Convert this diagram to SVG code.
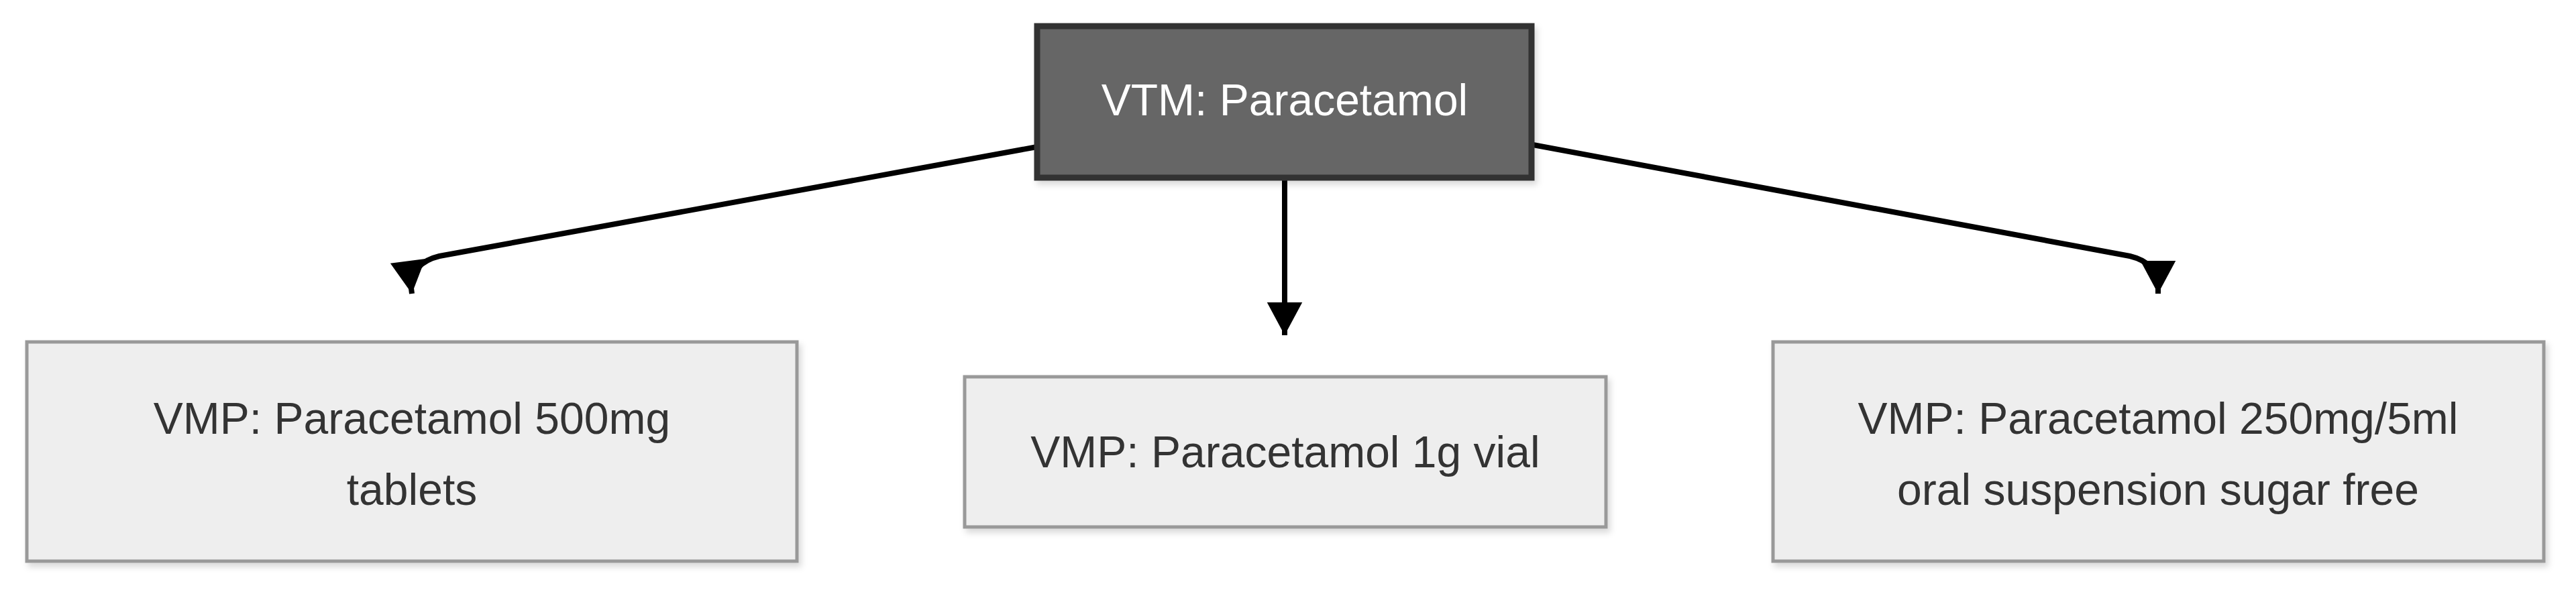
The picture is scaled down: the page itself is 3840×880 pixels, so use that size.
<svg xmlns="http://www.w3.org/2000/svg" width="3840" height="880" viewBox="0 0 3840 880">
<style>
.vmp{fill:#eeeeee;stroke:#999999;stroke-width:5}
.vtm{fill:#666666;stroke:#333333;stroke-width:9}
.t{font-family:"Liberation Sans",Arial,sans-serif;font-size:66px;text-anchor:middle;fill:#333333}
.tw{fill:#ffffff}
.e{fill:none;stroke:#000;stroke-width:8}
</style>
<defs>
<filter id="sh" x="-5%" y="-5%" width="115%" height="120%"><feDropShadow dx="4" dy="6" stdDeviation="5" flood-color="#000" flood-opacity="0.15"/></filter>
<marker id="ar" markerUnits="userSpaceOnUse" markerWidth="64" markerHeight="56" refX="32" refY="56" orient="auto-start-reverse" viewBox="0 0 64 56">
<path d="M2,0 L62,0 L32,56 Z" fill="#000" transform="rotate(0)"/>
</marker>
<marker id="ad" markerUnits="userSpaceOnUse" markerWidth="64" markerHeight="56" refX="56" refY="32" orient="auto" viewBox="0 0 56 64">
<path d="M0,2 L56,32 L0,62 Z" fill="#000"/>
</marker>
</defs>
<g id="connectors">
<path class="e" d="M1546,219 L655,382 Q613,392 613,430 L614,438" marker-end="url(#ad)"/>
<path class="e" d="M1915,267 L1915,500" marker-end="url(#ad)"/>
<path class="e" d="M2285,216 L3175,382 Q3217,392 3217,430 L3217,438" marker-end="url(#ad)"/>
</g>
<g id="vtm">
<rect class="vtm" x="1546" y="39" width="737" height="226" filter="url(#sh)"/>
<text class="t tw" x="1915" y="172">VTM: Paracetamol</text>
</g>
<g id="vmp1">
<rect class="vmp" x="40" y="510" width="1148" height="327" filter="url(#sh)"/>
<text class="t" x="614" y="647">VMP: Paracetamol 500mg</text>
<text class="t" x="614" y="753">tablets</text>
</g>
<g id="vmp2">
<rect class="vmp" x="1438" y="562" width="956" height="224" filter="url(#sh)"/>
<text class="t" x="1916" y="697">VMP: Paracetamol 1g vial</text>
</g>
<g id="vmp3">
<rect class="vmp" x="2643" y="510" width="1149" height="327" filter="url(#sh)"/>
<text class="t" x="3217" y="647">VMP: Paracetamol 250mg/5ml</text>
<text class="t" x="3217" y="753">oral suspension sugar free</text>
</g>
</svg>
